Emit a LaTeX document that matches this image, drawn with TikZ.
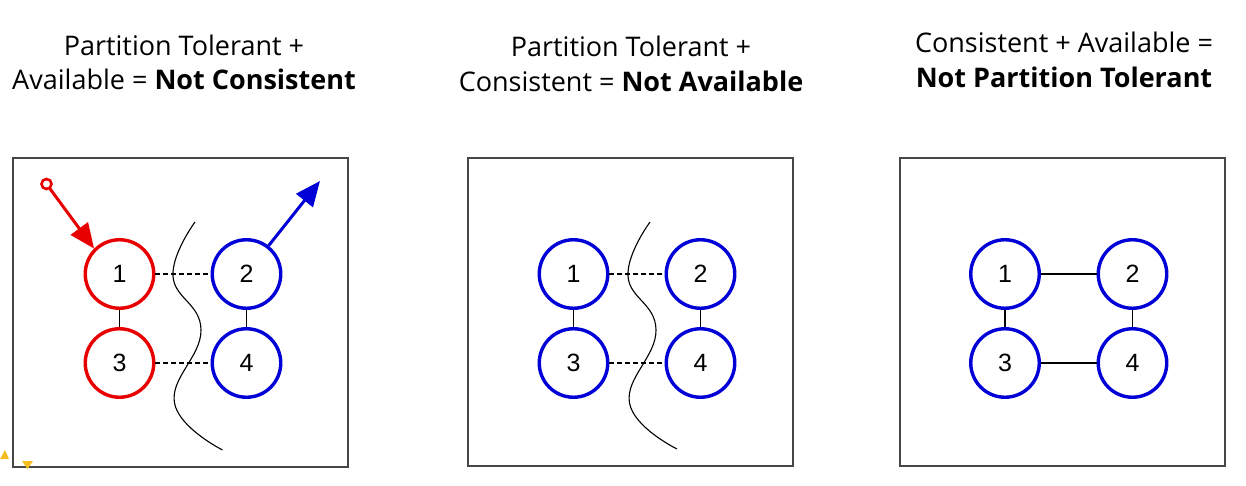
\documentclass[tikz,border=0pt]{standalone}
\usepackage{fontspec}
\setmainfont{Open Sans}[Ligatures=NoCommon]
\newfontfamily\nodefont{Liberation Sans}
\usetikzlibrary{arrows.meta}
\definecolor{nred}{RGB}{232,0,0}
\definecolor{nblue}{RGB}{0,0,215}
\definecolor{boxgray}{RGB}{70,70,70}
\definecolor{ylw}{RGB}{245,190,30}
\tikzset{
  panel/.style={draw=boxgray,line width=1.4pt},
  srv/.style={circle,line width=3.4pt,minimum size=68.5pt,inner sep=0pt,font=\nodefont\fontsize{25}{25}\selectfont},
  rsrv/.style={srv,draw=nred},
  bsrv/.style={srv,draw=nblue},
  link/.style={black,line width=1.1pt},
  cut/.style={black,line width=1.1pt,dash pattern=on 4.5pt off 3.5pt},
  wave/.style={black,line width=1.1pt},
  ttl/.style={anchor=base,inner sep=0pt,font=\fontsize{27}{30}\selectfont},
  bigarrow/.style={line width=3pt,-{Triangle[length=25pt,width=21pt]}},
}
\begin{document}
\begin{tikzpicture}[x=1pt,y=-1pt]
\useasboundingbox (0,0) rectangle (1246,486);
\fill[white] (0,0) rectangle (1246,486);

% titles
\node[ttl] (t1a) at (184,56) {Partition Tolerant +};
\node[ttl] (t1b) at (184,90) {Available = \textbf{Not Consistent}};
\node[ttl] (t2a) at (631,57) {Partition Tolerant +};
\node[ttl] (t2b) at (631,92) {Consistent = \textbf{Not Available}};
\node[ttl] (t3a) at (1064,53) {Consistent + Available =};
\node[ttl] (t3b) at (1064,88) {\textbf{Not Partition Tolerant}};

% panels
\draw[panel] (13,158) rectangle (348,467);
\draw[panel] (468,158) rectangle (793,466);
\draw[panel] (900,158) rectangle (1225,466);

% panel 1
\node[rsrv] (a1) at (119.5,274) {1};
\node[bsrv] (a2) at (246.5,274) {2};
\node[rsrv] (a3) at (119.5,363) {3};
\node[bsrv] (a4) at (246.5,363) {4};
\draw[link] (a1) -- (a3);
\draw[link] (a2) -- (a4);
\draw[cut] (a1.east) -- (a2.west);
\draw[cut] (a3.east) -- (a4.west);
\draw[wave] plot[smooth,tension=0.75] coordinates {(195,222) (173,276) (201,330) (174.5,403) (222.5,450)};
\coordinate (src) at (46.5,184);
\draw[nred,line width=2.6pt] (src) circle (5pt);
\draw[nred,bigarrow,shorten <=5pt] (src) -- (a1.135);
\coordinate (out) at (320,181);
\draw[nblue,bigarrow] (a2.52) -- (out);
% small yellow marks
\fill[ylw] (0,459) -- (5,450) -- (9,459) -- cycle;
\fill[ylw] (22,461) -- (33,461) -- (27.5,469) -- cycle;

% panel 2
\node[bsrv] (b1) at (573.5,274) {1};
\node[bsrv] (b2) at (700.5,274) {2};
\node[bsrv] (b3) at (573.5,363) {3};
\node[bsrv] (b4) at (700.5,363) {4};
\draw[link] (b1) -- (b3);
\draw[link] (b2) -- (b4);
\draw[cut] (b1.east) -- (b2.west);
\draw[cut] (b3.east) -- (b4.west);
\draw[wave] plot[smooth,tension=0.75] coordinates {(650,222) (628,276) (656,330) (629.5,403) (677,449)};

% panel 3
\node[bsrv] (c1) at (1005,274) {1};
\node[bsrv] (c2) at (1132.5,274) {2};
\node[bsrv] (c3) at (1005,363) {3};
\node[bsrv] (c4) at (1132.5,363) {4};
\draw[link] (c1) -- (c3);
\draw[link] (c2) -- (c4);
\draw[link] (c1) -- (c2);
\draw[link] (c3) -- (c4);
\end{tikzpicture}
\end{document}
